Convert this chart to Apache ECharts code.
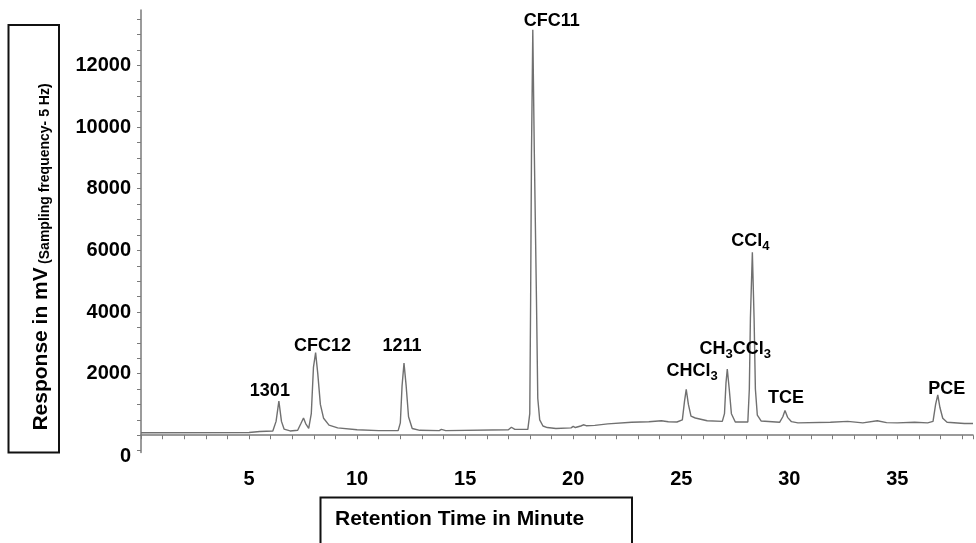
<!DOCTYPE html>
<html>
<head>
<meta charset="utf-8">
<script src="https://cdn.jsdelivr.net/npm/echarts@6/dist/echarts.min.js"></script>
<style>
  html, body { margin: 0; padding: 0; background: #fff; }
  #content { width: 976px; height: 543px; }
</style>
</head>
<body>
<div id="content"></div>
<script>
// retention time (min) and detector response (mV)
var times = [
    0, 5.0, 5.5, 6.1, 6.25, 6.38, 6.5, 6.62, 6.9, 7.25, 7.4, 7.52, 7.62, 7.76,
    7.88, 7.98, 8.08, 8.18, 8.3, 8.45, 8.7, 9.1, 10.0, 11.0, 11.9, 12.0, 12.08,
    12.17, 12.27, 12.38, 12.55, 12.9, 13.8, 13.9, 14.1, 17.0, 17.14, 17.3, 17.9,
    17.99, 18.03, 18.07, 18.13, 18.2, 18.3, 18.36, 18.45, 18.6, 18.8, 19.2, 19.9,
    20.0, 20.1, 20.35, 20.47, 20.6, 21.0, 21.6, 22.7, 23.5, 24.08, 24.4, 24.8,
    25.05, 25.15, 25.23, 25.33, 25.45, 25.65, 26.2, 26.9, 27.0, 27.07, 27.13,
    27.22, 27.32, 27.5, 28.08, 28.15, 28.2, 28.29, 28.37, 28.43, 28.52, 28.7,
    29.55, 29.7, 29.8, 29.92, 30.1, 30.4, 31.9, 32.7, 33.4, 34.07, 34.5, 35.0,
    35.8, 36.4, 36.65, 36.77, 36.87, 36.97, 37.1, 37.3, 38.1, 38.5
]
var response = [
    80, 90, 120, 140, 450, 1110, 450, 200, 140, 160, 380, 560, 380, 220,
    700, 2200, 2680, 2000, 1000, 550, 330, 240, 180, 150, 150, 400, 1600,
    2340, 1600, 600, 220, 160, 150, 190, 150, 180, 260, 190, 190,
    700, 4400, 9200, 13160, 9200, 4400, 1200, 500, 300, 250, 220, 240,
    290, 250, 300, 340, 310, 320, 370, 420, 440, 470, 440, 430,
    500, 1100, 1490, 1000, 620, 560, 470, 450, 700, 1700, 2150,
    1500, 700, 430, 430, 1500, 3800, 5940, 3800, 1500, 650, 460,
    420, 600, 800, 580, 440, 400, 420, 450, 400, 470, 410, 400,
    420, 400, 450, 1000, 1310, 900, 550, 420, 380, 380
]

// peak names and apex positions
var peakNames = ['1301', 'CFC12', '1211', 'CFC11', 'CHCl{s|3}', 'CH{s|3}CCl{s|3}', 'CCl{s|4}', 'TCE', 'PCE']
var peakTimes = [6.38, 8.08, 12.17, 18.13, 25.23, 27.13, 28.29, 29.8, 36.87]
var peakHeights = [1110, 2680, 2340, 13160, 1490, 2150, 5940, 800, 1310]

// axis ticks
var yTickValues = [-500, 0, 500, 1000, 1500, 2000, 2500, 3000, 3500, 4000, 4500, 5000, 5500,
    6000, 6500, 7000, 7500, 8000, 8500, 9000, 9500, 10000, 10500, 11000, 11500, 12000,
    12500, 13000, 13500]
var yLabelValues = [-560, 2000, 4000, 6000, 8000, 10000, 12000]
var yLabelTexts = ['{z|0}', '2000', '4000', '6000', '8000', '10000', '12000']

var FONT = "'Liberation Sans', Arial, sans-serif"
var AXIS_GREY = '#7a7a7a'

function initChart() {
    var chart = echarts.init(document.getElementById('content'))

    var trace = times.map(function (t, i) { return [t, response[i]] })
    // label offsets (px) from each apex
    var offsets = [[-9, -10], [7, -7], [-2, -17], [19, -9], [6, -18], [8, -20], [-2, -11], [1, -13], [9, -6]]
    var labels = peakNames.map(function (name, i) {
        return {
            value: [peakTimes[i], peakHeights[i]],
            name: name,
            label: { offset: offsets[i] },
        }
    })

    var option = {
        backgroundColor: '#fff',
        animation: false,
        textStyle: { fontFamily: FONT },
        grid: { left: 141, right: 0, top: 10, bottom: 90.5 },
        xAxis: {
            type: 'value',
            min: 0,
            max: 38.5,
            interval: 1,
            axisLine: { show: true, lineStyle: { color: AXIS_GREY, width: 1.5 } },
            axisTick: { show: true, length: 4, lineStyle: { color: AXIS_GREY } },
            axisLabel: {
                margin: 17,
                fontSize: 20,
                fontWeight: 'bold',
                fontFamily: FONT,
                color: '#000',
                formatter: function (v) { return v > 0 && v % 5 === 0 ? String(v) : '' },
            },
            splitLine: { show: false },
        },
        yAxis: {
            type: 'value',
            min: -560,
            max: 13800,
            axisLine: { show: true, lineStyle: { color: AXIS_GREY, width: 1.5 } },
            axisTick: { show: true, length: 4, customValues: yTickValues, lineStyle: { color: AXIS_GREY } },
            axisLabel: {
                customValues: yLabelValues,
                margin: 10,
                fontSize: 20,
                fontWeight: 'bold',
                fontFamily: FONT,
                color: '#000',
                formatter: function (v) {
                    var k = yLabelValues.indexOf(v)
                    return k >= 0 ? yLabelTexts[k] : ''
                },
                rich: {
                    z: { fontSize: 20, fontWeight: 'bold', fontFamily: FONT, color: '#000', padding: [7, 0, 0, 0] },
                },
            },
            splitLine: { show: false },
        },
        series: [
            {
                name: 'trace',
                type: 'line',
                data: trace,
                showSymbol: false,
                symbol: 'none',
                lineStyle: { color: '#707070', width: 1.4 },
                z: 3,
            },
            {
                name: 'peaks',
                type: 'scatter',
                data: labels,
                symbolSize: 1,
                itemStyle: { color: 'rgba(0,0,0,0)', opacity: 1 },
                label: {
                    show: true,
                    position: 'inside',
                    formatter: '{b}',
                    fontSize: 18,
                    fontWeight: 'bold',
                    fontFamily: FONT,
                    color: '#000',
                    textBorderWidth: 0,
                    lineHeight: 20,
                    align: 'center',
                    verticalAlign: 'middle',
                    rich: {
                        s: {
                            fontSize: 13,
                            fontWeight: 'bold',
                            fontFamily: FONT,
                            color: '#000',
                            textBorderWidth: 0,
                            lineHeight: 12,
                            verticalAlign: 'top',
                            padding: [9, 0, 0, 0],
                        },
                    },
                },
                emphasis: { disabled: true },
                z: 4,
            },
        ],
        graphic: [
            {
                type: 'rect',
                shape: { x: 8.5, y: 25, width: 50.5, height: 427.5 },
                style: { fill: 'none', stroke: '#111', lineWidth: 2 },
            },
            {
                type: 'text',
                x: 41,
                y: 257,
                rotation: Math.PI / 2,
                style: {
                    text: '{a|Response in mV} {b|(Sampling frequency- 5 Hz)}',
                    align: 'center',
                    verticalAlign: 'middle',
                    fill: '#000',
                    rich: {
                        a: { fontSize: 21, fontWeight: 'bold', fontFamily: FONT, fill: '#000', lineHeight: 24 },
                        b: { fontSize: 14, fontWeight: 'bold', fontFamily: FONT, fill: '#000', lineHeight: 12, verticalAlign: 'top', padding: [9, 0, 0, 0] },
                    },
                },
            },
            {
                type: 'rect',
                shape: { x: 320.5, y: 497.5, width: 311.5, height: 60 },
                style: { fill: 'none', stroke: '#111', lineWidth: 2 },
            },
            {
                type: 'text',
                x: 335,
                y: 519,
                style: {
                    text: 'Retention Time in Minute',
                    align: 'left',
                    verticalAlign: 'middle',
                    fontSize: 21,
                    fontWeight: 'bold',
                    fontFamily: FONT,
                    fill: '#000',
                },
            },
        ],
    }
    chart.setOption(option)
}
initChart()
</script>
</body>
</html>
